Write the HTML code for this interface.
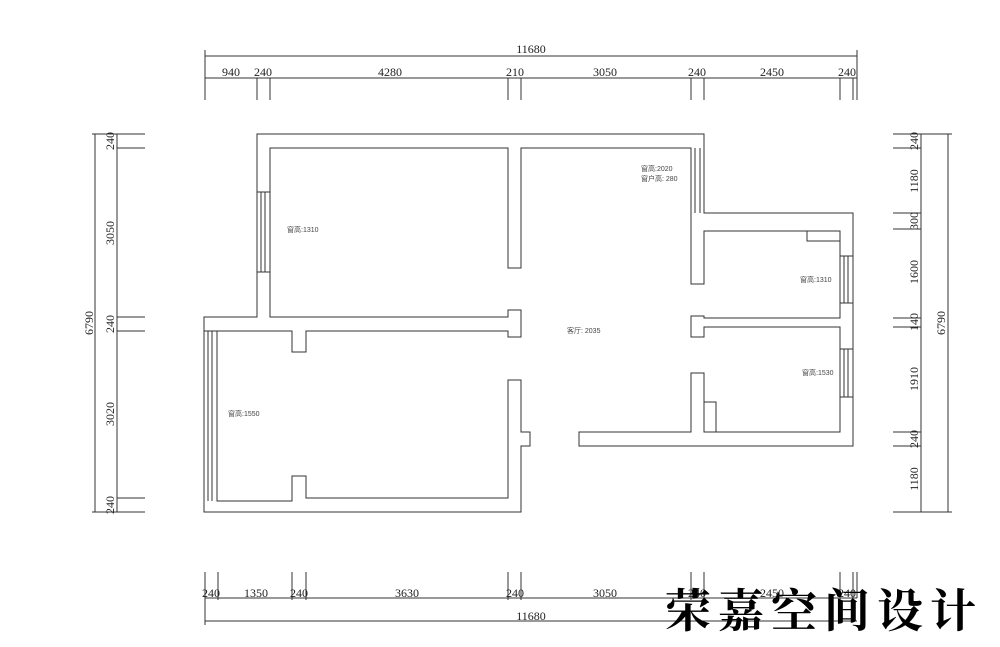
<!DOCTYPE html>
<html><head><meta charset="utf-8"><style>
html,body{margin:0;padding:0;background:#fff;}
svg{display:block;}
text{font-family:"Liberation Serif","Noto Serif CJK SC",serif;fill:#222;}
.s{font-family:"Liberation Sans","Noto Sans CJK SC",sans-serif;font-size:7px;fill:#444;}
</style></head><body>
<svg width="1000" height="647" viewBox="0 0 1000 647" xmlns="http://www.w3.org/2000/svg">
<g fill="none" stroke="#333" stroke-width="1">
<path d="M257,134 H704 V213 H853 V446 H579 V432 H691 V373 H704 V432 H840 V327 H704 V337 H691 V316 H704 V318 H840 V231 H704 V284 H691 V148 H521 V268 H508 V148 H270 V317 H508 V310 H521 V337 H508 V331 H306 V352 H292 V331 H217 V501 H292 V476 H306 V498 H508 V380 H521 V432 H530 V446 H521 V512 H204 V317 H257 Z"/>
<!-- windows -->
<path d="M261,192 V272 M265,192 V272 M257,192 H270 M257,272 H270"/>
<path d="M695,148 V213 M700,148 V213"/>
<path d="M844,256 V303 M848,256 V303 M840,256 H853 M840,303 H853"/>
<path d="M844,349 V397 M848,349 V397 M840,349 H853 M840,397 H853"/>
<path d="M208,331 V501 M212,331 V501 M204,331 H217"/>
<path d="M807,231 V241 H840 M704,402 H716 V432"/>
<!-- top dims -->
<path d="M205,56 H857 M205,50 V100 M857,50 V100 M205,78 H857"/>
<path d="M257,78 V100 M270,78 V100 M508,78 V100 M521,78 V100 M691,78 V100 M704,78 V100 M840,78 V100 M853,78 V100"/>
<!-- bottom dims -->
<path d="M205,598 H857 M205,621 H857 M205,572 V625 M857,572 V598"/>
<path d="M218,572 V600 M292,572 V600 M306,572 V600 M508,572 V600 M521,572 V600 M691,572 V600 M704,572 V600 M840,572 V600 M853,572 V600"/>
<!-- left dims -->
<path d="M95,134 V512 M117,134 V512 M92,134 H145 M92,512 H145 M117,148 H145 M117,317 H145 M117,331 H145 M117,498 H145"/>
<!-- right dims -->
<path d="M948,134 V512 M921,134 V512 M893,134 H952 M893,512 H952 M893,148 H921 M893,213 H921 M893,229 H921 M893,318 H921 M893,327 H921 M893,432 H921 M893,446 H921"/>
</g>
<g font-size="12" text-anchor="middle">
<text x="531" y="53">11680</text>
<text x="231" y="76">940</text><text x="263" y="76">240</text><text x="390" y="76">4280</text><text x="515" y="76">210</text><text x="605" y="76">3050</text><text x="697" y="76">240</text><text x="772" y="76">2450</text><text x="847" y="76">240</text>
<text x="211" y="597">240</text><text x="256" y="597">1350</text><text x="299" y="597">240</text><text x="407" y="597">3630</text><text x="515" y="597">240</text><text x="605" y="597">3050</text><text x="697" y="597">240</text><text x="772" y="597">2450</text><text x="847" y="597">240</text>
<text x="531" y="620">11680</text>
<g transform="translate(114,0)">
<text transform="translate(0,141) rotate(-90)">240</text>
<text transform="translate(0,233) rotate(-90)">3050</text>
<text transform="translate(0,324) rotate(-90)">240</text>
<text transform="translate(0,414) rotate(-90)">3020</text>
<text transform="translate(0,505) rotate(-90)">240</text>
</g>
<text transform="translate(93,323) rotate(-90)">6790</text>
<g transform="translate(918,0)">
<text transform="translate(0,141) rotate(-90)">240</text>
<text transform="translate(0,181) rotate(-90)">1180</text>
<text transform="translate(0,221) rotate(-90)">300</text>
<text transform="translate(0,272) rotate(-90)">1600</text>
<text transform="translate(0,322) rotate(-90)">140</text>
<text transform="translate(0,379) rotate(-90)">1910</text>
<text transform="translate(0,439) rotate(-90)">240</text>
<text transform="translate(0,479) rotate(-90)">1180</text>
</g>
<text transform="translate(945,323) rotate(-90)">6790</text>
</g>
<text class="s" x="287" y="232">窗高:1310</text>
<text class="s" x="641" y="171">窗高:2020</text>
<text class="s" x="641" y="181">窗户高: 280</text>
<text class="s" x="567" y="333">客厅: 2035</text>
<text class="s" x="800" y="282">窗高:1310</text>
<text class="s" x="802" y="375">窗高:1530</text>
<text class="s" x="228" y="416">窗高:1550</text>
<text x="665" y="627" font-size="46" font-weight="bold" style="font-family:'Noto Serif CJK SC','WenQuanYi Zen Hei',serif;letter-spacing:7px;fill:#000">荣嘉空间设计</text>
</svg>
</body></html>
